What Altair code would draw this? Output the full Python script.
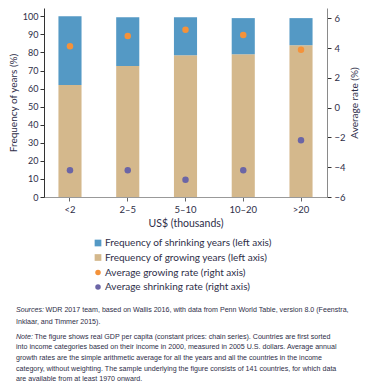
import altair as alt
import pandas as pd

categories = ["<2", "2–5", "5–10", "10–20", ">20"]
growing_freq = [62, 72.5, 78.5, 79, 84]
shrinking_freq = [38, 27, 21, 20, 15]
growing_rate = [4.13, 4.82, 5.24, 4.89, 3.89]
shrinking_rate = [-4.2, -4.2, -4.84, -4.2, -2.18]

shrink_label = "Frequency of shrinking years (left axis)"
grow_label = "Frequency of growing years (left axis)"
grow_rate_label = "Average growing rate (right axis)"
shrink_rate_label = "Average shrinking rate (right axis)"

sources_lines = [
    "WDR 2017 team, based on Wallis 2016, with data from Penn World Table, version 8.0 (Feenstra,",
    "Inklaar, and Timmer 2015).",
]
note_lines = [
    "The figure shows real GDP per capita (constant prices: chain series). Countries are first sorted",
    "into income categories based on their income in 2000, measured in 2005 U.S. dollars. Average annual",
    "growth rates are the simple arithmetic average for all the years and all the countries in the income",
    "category, without weighting. The sample underlying the figure consists of 141 countries, for which data",
    "are available from at least 1970 onward.",
]

BLUE = "#5499c5"
TAN = "#d4b88c"
ORANGE = "#f4923a"
PURPLE = "#6b65a6"
TXT = "#2e2e48"
FONT = "Lato"
NFONT = "Liberation Sans"
NSIZE = 7.1

bar_rows = []
for c, g, s in zip(categories, growing_freq, shrinking_freq):
    bar_rows.append({"cat": c, "series": grow_label, "value": g, "ord": 0})
    bar_rows.append({"cat": c, "series": shrink_label, "value": s, "ord": 1})
bar_df = pd.DataFrame(bar_rows)

pt_rows = []
for c, g, s in zip(categories, growing_rate, shrinking_rate):
    pt_rows.append({"cat": c, "series": grow_rate_label, "rate": g})
    pt_rows.append({"cat": c, "series": shrink_rate_label, "rate": s})
pt_df = pd.DataFrame(pt_rows)

xenc = alt.X(
    "cat:N", sort=categories,
    scale=alt.Scale(paddingInner=0.6, paddingOuter=0.25),
    axis=alt.Axis(title="US$ (thousands)", labelAngle=0, domainColor="#999999",
                  tickColor="#666666", tickSize=4, labelPadding=3, titlePadding=5,
                  labelFontSize=9.5, titleFontSize=10.5, titleFontWeight="normal",
                  labelColor=TXT, titleColor=TXT, labelFont=FONT, titleFont=FONT),
)

bars = alt.Chart(bar_df).mark_bar().encode(
    x=xenc,
    y=alt.Y("value:Q", stack="zero",
            scale=alt.Scale(domain=[0, 104.6], nice=False),
            axis=alt.Axis(values=list(range(0, 101, 10)), title="Frequency of years (%)",
                          grid=False, domainColor="#333333", tickColor="#333333",
                          tickSize=4, labelPadding=2, titlePadding=4,
                          labelFontSize=9, titleFontSize=10, titleFontWeight="normal",
                          labelColor=TXT, titleColor=TXT, labelFont=FONT, titleFont=FONT)),
    color=alt.Color("series:N",
                    scale=alt.Scale(domain=[shrink_label, grow_label], range=[BLUE, TAN]),
                    legend=alt.Legend(title=None, orient="none", legendX=49, legendY=230,
                                      symbolType="square", symbolSize=45, symbolStrokeWidth=0,
                                      labelFontSize=10, labelFont=FONT, labelColor=TXT,
                                      labelLimit=320, rowPadding=4.5, labelOffset=2)),
    order=alt.Order("ord:Q"),
)

points = alt.Chart(pt_df).mark_circle(size=42, opacity=1).encode(
    x=alt.X("cat:N", sort=categories),
    y=alt.Y("rate:Q", scale=alt.Scale(domain=[-6, 6.7], nice=False),
            axis=alt.Axis(orient="right", values=[-6, -4, -2, 0, 2, 4, 6],
                          title="Average rate (%)", titleAngle=270, titleBaseline="top",
                          grid=False,
                          domainColor="#8a8a8a", tickColor="#333333", tickSize=4,
                          labelPadding=3, titlePadding=4,
                          labelFontSize=9.5, titleFontSize=10, titleFontWeight="normal",
                          labelColor=TXT, titleColor=TXT, labelFont=FONT, titleFont=FONT)),
    color=alt.Color("series:N",
                    scale=alt.Scale(domain=[grow_rate_label, shrink_rate_label],
                                    range=[ORANGE, PURPLE]),
                    legend=alt.Legend(title=None, orient="none", legendX=49, legendY=259.5,
                                      symbolType="circle", symbolSize=30, symbolStrokeWidth=0,
                                      labelFontSize=10, labelFont=FONT, labelColor=TXT,
                                      labelLimit=320, rowPadding=4.5, labelOffset=2)),
)

one = pd.DataFrame({"a": [0]})


def txt(text, x, y, italic=False):
    return alt.Chart(one).mark_text(
        align="left", baseline="middle", font=NFONT, fontSize=NSIZE,
        fontStyle="italic" if italic else "normal", color=TXT,
    ).encode(x=alt.value(x), y=alt.value(y), text=alt.value(text))


notes = [
    txt("Sources:", -28, 302, italic=True),
    txt(sources_lines[0], 1.5, 302),
    txt(sources_lines[1], -28, 314),
    txt("Note:", -28, 328.7, italic=True),
    txt(note_lines[0], -9.5, 328.7),
]
for i, line in enumerate(note_lines[1:]):
    notes.append(txt(line, -28, 339.2 + i * 10.7))

chart = alt.layer(bars, points, *notes).resolve_scale(
    y="independent", color="independent"
).properties(
    width=283, height=189,
    autosize=alt.AutoSizeParams(type="none"),
    padding={"left": 36, "top": 0, "right": 34, "bottom": 187},
).configure_view(stroke=None)

chart.save("out.html", embed_options={"renderer": "svg", "actions": False})
